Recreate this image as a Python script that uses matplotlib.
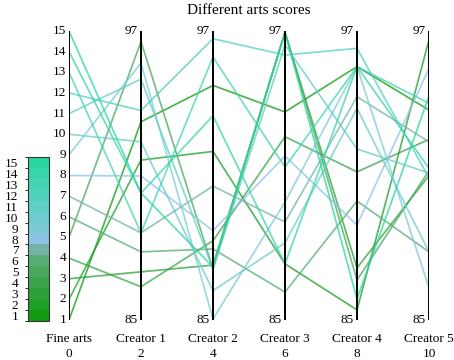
import matplotlib
matplotlib.use("Agg")
import matplotlib.pyplot as plt
import numpy as np
from matplotlib.colors import ListedColormap, BoundaryNorm
import matplotlib as mpl

plt.rcParams['font.family'] = ['Liberation Serif', 'DejaVu Serif']

title = "Different arts scores"
dimensions = ["Fine arts", "Creator 1", "Creator 2", "Creator 3", "Creator 4", "Creator 5"]
positions = [0, 2, 4, 6, 8, 10]

fine_arts = [1, 2, 3, 4, 5, 6, 7, 8, 9, 10, 11, 12, 13, 14, 15]
creator1 = [93.23, 91.64, 87.0, 86.38, 96.56, 87.83, 88.62, 90.98, 95.67, 92.4, 95.0, 93.7, 88.62, 90.27, 90.27]
creator2 = [94.74, 92.0, 87.28, 88.29, 87.12, 87.95, 90.56, 88.71, 85.04, 86.22, 87.12, 96.68, 95.92, 93.48, 87.2]
creator3 = [93.64, 87.33, 96.95, 92.61, 96.95, 86.16, 89.07, 91.81, 89.90, 88.2, 96.42, 96.0, 91.35, 87.33, 96.95]
creator4 = [95.52, 85.42, 87.16, 91.15, 86.66, 89.94, 94.27, 88.94, 95.52, 93.79, 92.1, 96.28, 95.52, 95.52, 85.87]
creator5 = [93.72, 96.63, 91.0, 92.5, 91.2, 87.83, 92.4, 95.45, 86.33, 87.83, 91.1, 90.9, 94.0, 91.3, 94.3]

fa_ticks = list(range(1, 16))
fa_range = (1, 15)
creator_range = (85, 97)

level_colors = ["#119b11", "#1f9e28", "#2ca13a", "#39a44c", "#48a85e", "#57ad74",
                "#74b4a8", "#8ec2e6", "#7ccad6", "#6ccbcc", "#5fcfc4", "#52d1bc",
                "#44d3b3", "#38d5aa", "#2ad6a0"]

W, H = 454, 360
fig = plt.figure(figsize=(W / 100, H / 100), dpi=100)
ax = fig.add_axes([69 / W, (H - 320) / H, (429 - 69) / W, (320 - 31) / H])
ax.set_xlim(0, 10)
ax.set_ylim(0, 1)

def norm(v, r):
    return (v - r[0]) / (r[1] - r[0])

series = [creator1, creator2, creator3, creator4, creator5]
for i, fa in enumerate(fine_arts):
    ys = [norm(fa, fa_range)] + [norm(s[i], creator_range) for s in series]
    ax.plot(positions, ys, color=level_colors[fa - 1], lw=1.25, alpha=0.75, zorder=2)

for p in positions:
    ax.axvline(p, color="black", lw=1.4, zorder=3)

for sp in ax.spines.values():
    sp.set_visible(False)

ax.set_yticks([])
ax.set_xticks(positions)
ax.set_xticklabels([f"{d}\n{p}" for d, p in zip(dimensions, positions)], fontsize=9.5, linespacing=1.35)
ax.tick_params(axis="x", length=0, pad=9)

for t in fa_ticks:
    ax.text(-0.08, norm(t, fa_range), str(t), ha="right", va="center", fontsize=9.5)
for p in positions[1:]:
    ax.text(p - 0.08, 1.0, str(creator_range[1]), ha="right", va="center", fontsize=9.5)
    ax.text(p - 0.08, 0.0, str(creator_range[0]), ha="right", va="center", fontsize=9.5)

fig.text(249 / W, 1 - 10 / H, title, ha="center", va="center", fontsize=11)

cax = fig.add_axes([28 / W, (H - 321) / H, 21 / W, 164 / H])
cmap = ListedColormap(level_colors)
bnorm = BoundaryNorm(np.arange(0.5, 16.5, 1), cmap.N)
cb = mpl.colorbar.ColorbarBase(cax, cmap=cmap, norm=bnorm, ticks=fa_ticks)
cax.yaxis.set_ticks_position("left")
cax.tick_params(length=0, labelsize=9.5, pad=7)
cb.outline.set_edgecolor("#333333")
cb.outline.set_linewidth(0.8)

fig.savefig("out.png", dpi=100)
